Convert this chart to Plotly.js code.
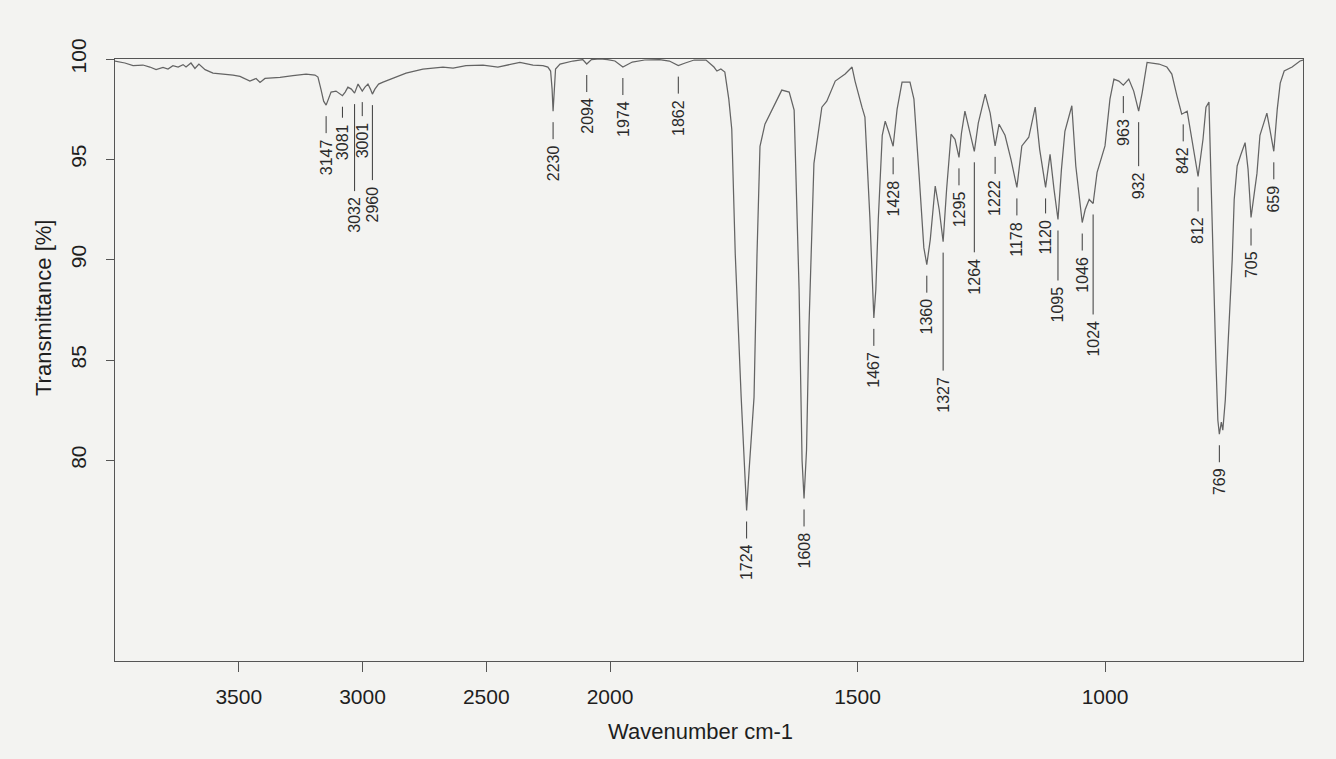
<!DOCTYPE html>
<html><head><meta charset="utf-8">
<script src="https://cdn.plot.ly/plotly-3.0.1.min.js"></script>
<style>html,body{margin:0;padding:0;background:#f3f3f1;}</style>
</head><body><div id="chart" style="width:1336px;height:759px;"></div>
<script>
// Spectrum (wavenumber in cm-1, transmittance in %)
const wavenumber = [
4000,3988,3960,3927,3887,3859,3834,3806,3786,3766,3745,3725,3713,3693,3677,3661,3636,3604,3552,3523,
3495,3455,3430,3414,3394,3333,3281,3228,3192,3180,3168,3157,3147,3137,3127,3107,3095,3081,3070,3059,
3045,3032,3018,3010,3001,2990,2978,2968,2960,2950,2935,2917,2877,2824,2756,2675,2634,2582,2513,2453,
2364,2311,2271,2251,2240,2234,2230,2226,2220,2202,2150,2110,2094,2075,2040,2010,1990,1974,1955,1930,
1900,1880,1862,1848,1830,1806,1790,1784,1776,1768,1760,1754,1747,1735,1728,1724,1719,1709,1703,1697,
1687,1673,1653,1638,1628,1618,1612,1608,1603,1598,1588,1572,1562,1545,1525,1511,1505,1491,1485,1475,
1470,1467,1463,1458,1450,1444,1436,1428,1420,1410,1394,1386,1375,1366,1360,1353,1343,1335,1327,1320,
1311,1303,1295,1290,1283,1274,1264,1256,1242,1232,1222,1214,1202,1190,1178,1168,1154,1141,1132,1120,
1111,1103,1095,1088,1081,1067,1059,1046,1040,1032,1024,1016,1000,990,982,972,963,952,942,932,
925,915,891,875,865,855,845,834,825,812,802,796,790,785,780,776,772,769,765,762,
757,752,747,743,739,733,726,717,711,705,699,693,687,680,673,667,659,652,646,638,
622,606,600
];
const transmittance = [
99.9,99.87,99.8,99.67,99.7,99.6,99.47,99.58,99.5,99.67,99.6,99.72,99.6,99.8,99.53,99.75,99.47,99.3,99.25,99.2,
99.13,98.9,99.03,98.83,99.03,99.08,99.17,99.25,99.2,99.1,98.5,97.9,97.7,98.0,98.35,98.4,98.3,98.17,98.35,98.6,
98.5,98.3,98.75,98.6,98.4,98.6,98.75,98.5,98.25,98.5,98.75,98.85,99.05,99.3,99.5,99.6,99.55,99.67,99.7,99.6,
99.83,99.7,99.67,99.6,99.4,98.5,97.4,98.6,99.5,99.75,99.9,99.97,99.75,99.97,100,99.97,99.9,99.6,99.85,99.95,
99.97,99.9,99.67,99.8,99.95,99.95,99.6,99.4,99.5,99.35,98.0,96.5,90.3,83.15,79.0,77.5,79.5,83.15,90.3,95.65,
96.75,97.45,98.45,98.35,97.45,88.5,80.0,78.1,80.5,86.7,94.8,97.6,97.9,98.9,99.25,99.6,98.9,97.6,97.1,92.1,
88.5,87.1,88.5,92.0,96.2,96.9,96.3,95.65,97.5,98.85,98.85,98.0,94.0,90.6,89.75,91.0,93.67,92.5,90.9,93.5,
96.25,96.0,95.1,96.3,97.4,96.5,95.4,96.8,98.25,97.3,95.67,96.75,96.2,95.0,93.6,95.67,96.1,97.6,95.5,93.6,
95.25,93.5,92.0,94.5,96.4,97.67,94.67,91.85,92.5,93.0,92.8,94.35,95.67,98.0,99.0,98.9,98.7,99.0,98.4,97.4,
98.3,99.83,99.75,99.6,99.25,98.2,97.25,97.4,96.0,94.15,96.0,97.6,97.85,93.0,89.0,85.0,82.0,81.3,81.9,81.5,
83.0,85.5,88.0,90.0,93.0,94.67,95.2,95.83,94.5,92.1,93.2,94.3,96.2,96.8,97.3,96.5,95.4,97.5,98.8,99.4,
99.6,99.9,99.95
];
// Labelled bands
const peakWavenumbers = [3147,3081,3032,3001,2960,2230,2094,1974,1862,1724,1608,1467,1428,1360,1327,1295,1264,1222,1178,1120,1095,1046,1024,963,932,842,812,769,705,659];
const xTickLabels = [3500,3000,2500,2000,1500,1000];
const yTickValues = [80,85,90,95,100];
const xTitle = 'Wavenumber cm-1';
const yTitle = 'Transmittance [%]';

// instrument x-scale: 4000-2000 compressed, below 2000 expanded 2x
function toAxis(w){ return w >= 2000 ? 4000 - w : 2000 + 2*(2000 - w); }
function interpT(w){
  for (let i=0;i<wavenumber.length-1;i++){
    const a=wavenumber[i], b=wavenumber[i+1];
    if (w<=a && w>=b){ const f=(a-w)/(a-b); return transmittance[i]+f*(transmittance[i+1]-transmittance[i]); }
  }
  return 100;
}

const W = 1336, H = 759;
const M = {l:115, r:33, t:59, b:98};
const yMin = 70, yMax = 100;
const plotW = W - M.l - M.r, plotH = H - M.t - M.b;
const ppu = plotH / (yMax - yMin);
const leadPx = {3081:11, 3001:14, 3032:87, 2960:75, 1327:118, 1264:90, 1095:50, 1024:100, 932:44, 812:24, 1120:15};
const txtFont = 'Liberation Sans, Arial, Helvetica, sans-serif';

const shapes = [], annotations = [];
peakWavenumbers.forEach(w => {
  const x = toAxis(w);
  const t = interpT(w);
  const lead = leadPx[w] || 17;
  shapes.push({type:'line', xref:'x', yref:'y', x0:x, x1:x, y0:t - 11/ppu, y1:t - (11+lead)/ppu,
    line:{color:'#3a3a3a', width:1}});
  annotations.push({xref:'x', yref:'y', x:x, y:t - (11+lead+5)/ppu, text:String(w), textangle:-90,
    showarrow:false, xanchor:'center', yanchor:'top', borderpad:0,
    font:{family:txtFont, size:16, color:'#2a2a2a'}});
});
// axis titles (placed as in the original print)
annotations.push({xref:'paper', yref:'paper', x:(700 - M.l)/plotW, y:(H - M.b - 731)/plotH, text:xTitle,
  showarrow:false, xanchor:'center', yanchor:'middle', font:{family:txtFont, size:22, color:'#1e1e1e'}});
annotations.push({xref:'paper', yref:'paper', x:(43 - M.l)/plotW, y:(H - M.b - 308)/plotH, text:yTitle, textangle:-90,
  showarrow:false, xanchor:'center', yanchor:'middle', font:{family:txtFont, size:22, color:'#1e1e1e'}});

const trace = {type:'scatter', mode:'lines', x: wavenumber.map(toAxis), y: transmittance,
  line:{color:'#646464', width:1.25}, hoverinfo:'skip'};

const layout = {
  width:W, height:H, margin:M,
  paper_bgcolor:'#f3f3f1', plot_bgcolor:'#f3f3f1',
  showlegend:false,
  font:{family:txtFont, color:'#222'},
  xaxis:{range:[0,4800], tickmode:'array', tickvals:xTickLabels.map(toAxis), ticktext:xTickLabels.map(String),
    ticks:'outside', ticklen:10, tickwidth:1, tickcolor:'#555', ticklabelstandoff:7,
    showline:true, mirror:true, linecolor:'#555', linewidth:1.2, showgrid:false, zeroline:false,
    tickfont:{family:txtFont, size:21, color:'#1e1e1e'}},
  yaxis:{range:[yMin,yMax], tickmode:'array', tickvals:yTickValues, ticktext:yTickValues.map(String), tickangle:-90,
    ticks:'outside', ticklen:8, tickwidth:1, tickcolor:'#555', ticklabelstandoff:11,
    showline:true, mirror:true, linecolor:'#555', linewidth:1.2, showgrid:false, zeroline:false,
    tickfont:{family:txtFont, size:21, color:'#1e1e1e'}},
  shapes:shapes, annotations:annotations
};
Plotly.newPlot('chart', [trace], layout, {staticPlot:true, displayModeBar:false});
</script></body></html>
